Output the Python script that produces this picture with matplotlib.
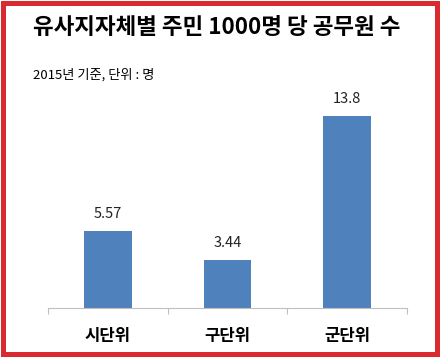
import matplotlib
matplotlib.use('Agg')
import matplotlib.pyplot as plt
from matplotlib.patches import Rectangle

plt.rcParams['font.family'] = ['Noto Sans CJK KR', 'DejaVu Sans']

categories = ['시단위', '구단위', '군단위']
values = [5.57, 3.44, 13.8]
value_labels = ['5.57', '3.44', '13.8']
title = '유사지자체별 주민 1000명 당 공무원 수'
subtitle = '2015년 기준, 단위 : 명'

W, H = 448, 363
fig = plt.figure(figsize=(W / 100, H / 100), dpi=100)

# axes placed in pixel coords: baseline y=308, x 48..407
ax = fig.add_axes([48 / W, (H - 308) / H, (407 - 48) / W, (308 - 100) / H])
x = range(len(categories))
ax.bar(x, values, width=0.4, color='#4F81BD')
ax.set_xlim(-0.5, 2.5)
ax.set_ylim(0, 13.8 * 208 / 192)

for xi, v, lab in zip(x, values, value_labels):
    ax.annotate(lab, (xi, v), xytext=(0, 7), textcoords='offset points',
                ha='center', va='bottom', fontsize=10.5, color='#222222')

for s in ['top', 'right', 'left']:
    ax.spines[s].set_visible(False)
ax.spines['bottom'].set_color('#BFBFBF')
ax.set_yticks([])
ax.set_xticks([-0.5, 0.5, 1.5, 2.5])
ax.set_xticklabels([])
ax.tick_params(axis='x', which='major', length=4, color='#BFBFBF', direction='out')
ax.set_xticks(list(x), minor=True)
ax.set_xticklabels(categories, minor=True, fontsize=12, fontweight='bold')
ax.tick_params(axis='x', which='minor', length=0, pad=14)

fig.text(33 / W, 1 - 27 / H, title, fontsize=16.2, fontweight='heavy',
         ha='left', va='center')
fig.text(33 / W, 1 - 75 / H, subtitle, fontsize=9.5, fontweight='medium',
         ha='left', va='center')

# red frame
fig.patches.append(Rectangle((2.5 / W, 1 - 354 / H), 434 / W, 351.5 / H,
                             transform=fig.transFigure, fill=False,
                             edgecolor='#DA2A2F', linewidth=3.6))

fig.savefig('out.png', dpi=100)
